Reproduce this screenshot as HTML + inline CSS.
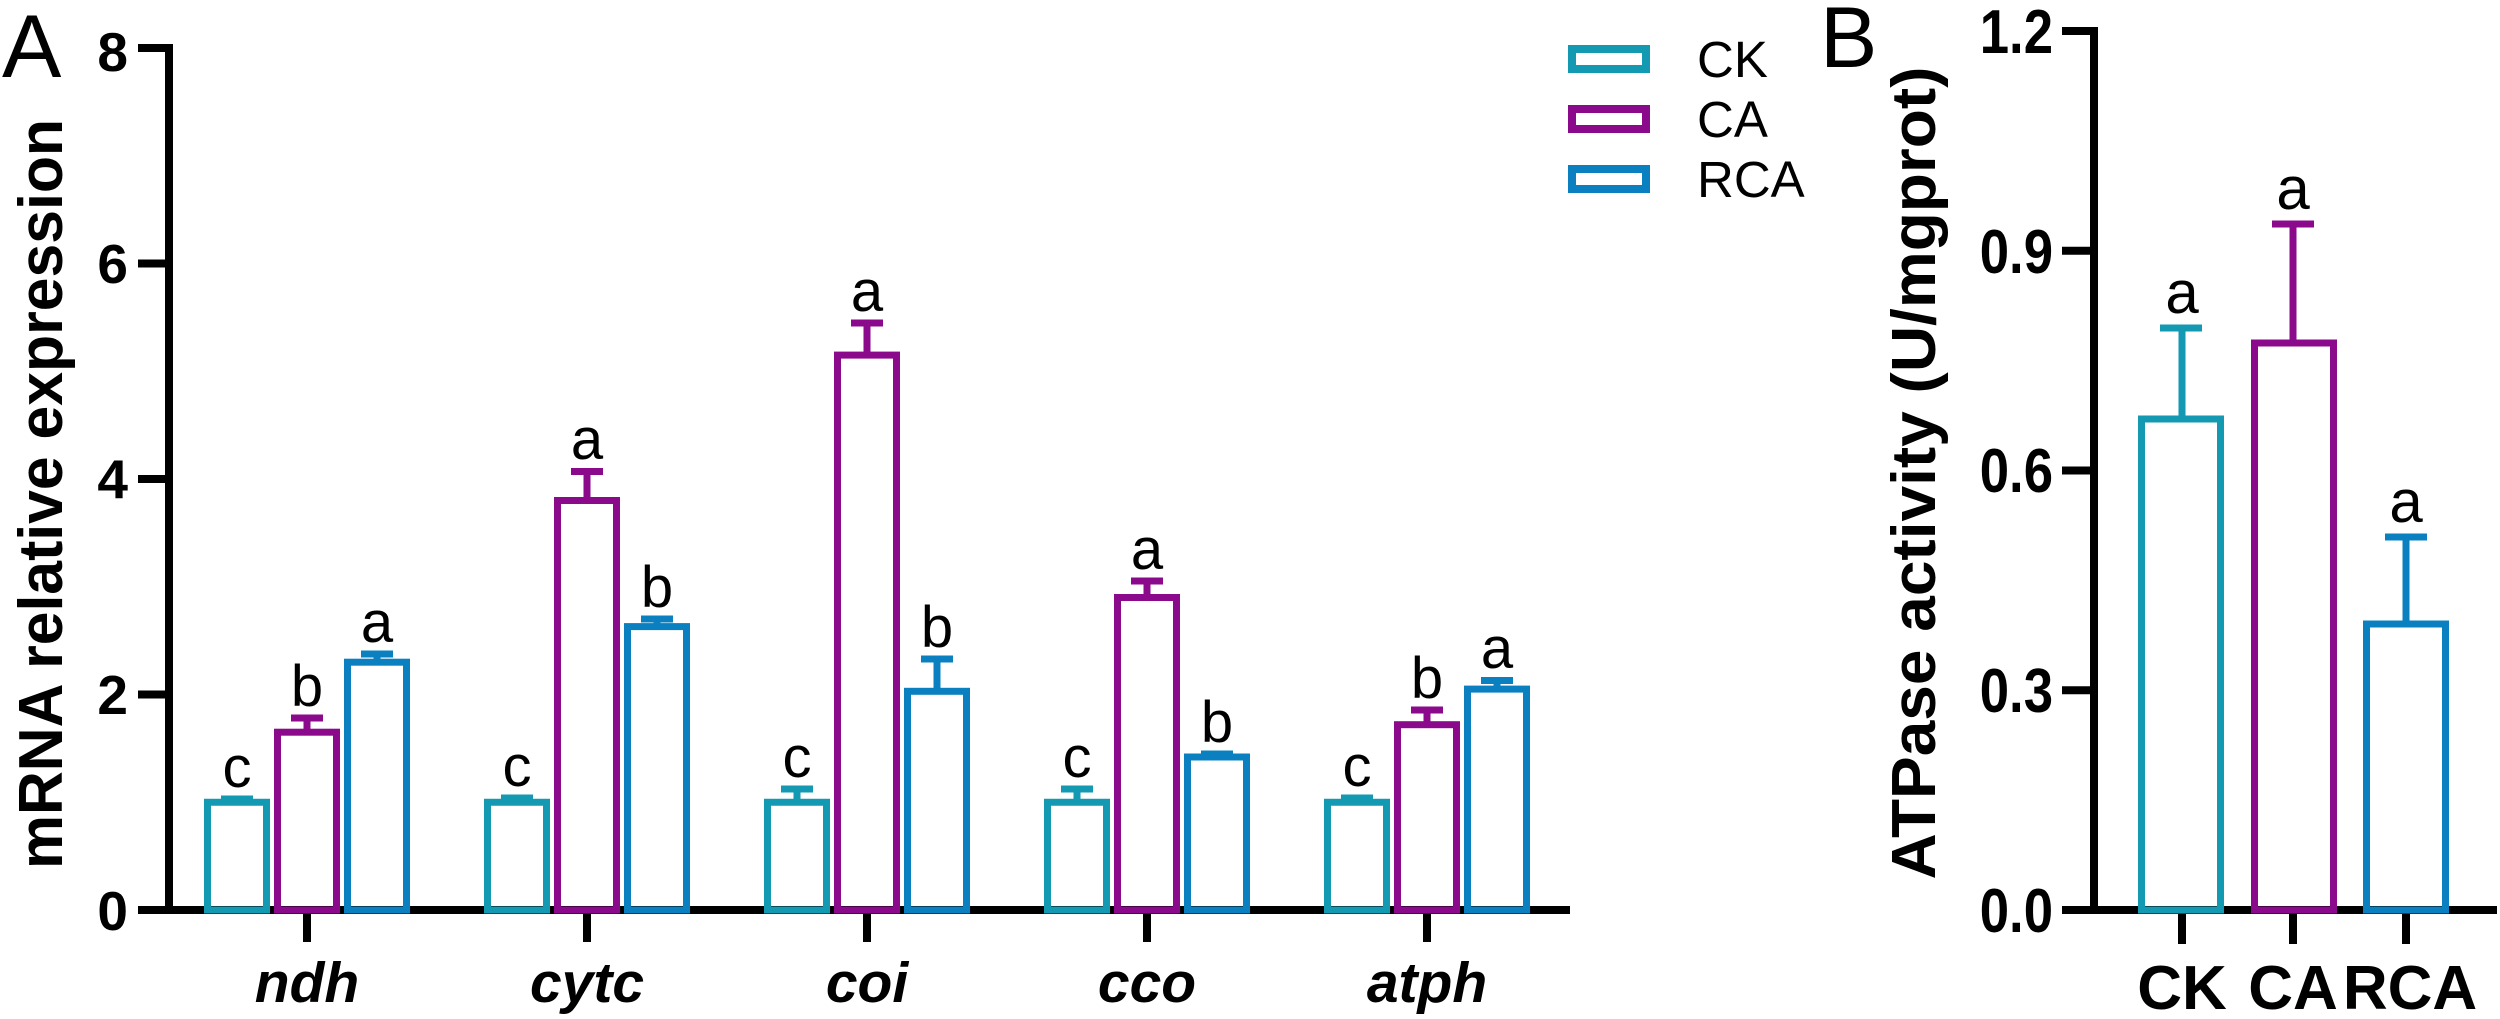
<!DOCTYPE html>
<html><head><meta charset="utf-8"><style>
html,body{margin:0;padding:0;background:#fff;}
svg{display:block;}
text{font-family:"Liberation Sans",Arial,sans-serif;}
</style></head><body>
<svg width="2500" height="1019" viewBox="0 0 2500 1019" xmlns="http://www.w3.org/2000/svg">
<rect width="2500" height="1019" fill="#fff"/>
<!-- Panel A -->
<text x="2" y="77" font-size="89">A</text>
<text transform="translate(62,494) rotate(-90)" text-anchor="middle" font-size="62" font-weight="bold" textLength="750" lengthAdjust="spacingAndGlyphs">mRNA relative expression</text>
<g stroke="#000" stroke-width="8" fill="none">
<line x1="169" y1="44" x2="169" y2="914"/>
<line x1="138" y1="910" x2="1570" y2="910"/>
<line x1="138" y1="48" x2="169" y2="48"/>
<line x1="138" y1="263.5" x2="169" y2="263.5"/>
<line x1="138" y1="479" x2="169" y2="479"/>
<line x1="138" y1="694.5" x2="169" y2="694.5"/>
<line x1="307" y1="910" x2="307" y2="942"/>
<line x1="587" y1="910" x2="587" y2="942"/>
<line x1="867" y1="910" x2="867" y2="942"/>
<line x1="1147" y1="910" x2="1147" y2="942"/>
<line x1="1427" y1="910" x2="1427" y2="942"/>
</g>
<g font-size="55" font-weight="bold" text-anchor="end">
<text x="128" y="71">8</text>
<text x="128" y="283">6</text>
<text x="128" y="498">4</text>
<text x="128" y="714">2</text>
<text x="128" y="930">0</text>
</g>
<g font-size="57" font-weight="bold" font-style="italic" text-anchor="middle">
<text x="307" y="1002">ndh</text>
<text x="587" y="1002">cytc</text>
<text x="867" y="1002">coi</text>
<text x="1147" y="1002">cco</text>
<text x="1427" y="1002">atph</text>
</g>
<g fill="none" stroke-width="7">
<g stroke="#1399b2">
<rect x="207.5" y="802.25" width="59" height="107.75"/><line x1="237" y1="802" x2="237" y2="799"/><line x1="221" y1="799" x2="253" y2="799"/>
<rect x="487.5" y="802.25" width="59" height="107.75"/><line x1="517" y1="802" x2="517" y2="798"/><line x1="501" y1="798" x2="533" y2="798"/>
<rect x="767.5" y="802.25" width="59" height="107.75"/><line x1="797" y1="802" x2="797" y2="789"/><line x1="781" y1="789" x2="813" y2="789"/>
<rect x="1047.5" y="802.25" width="59" height="107.75"/><line x1="1077" y1="802" x2="1077" y2="789"/><line x1="1061" y1="789" x2="1093" y2="789"/>
<rect x="1327.5" y="802.25" width="59" height="107.75"/><line x1="1357" y1="802" x2="1357" y2="798"/><line x1="1341" y1="798" x2="1373" y2="798"/>
</g>
<g stroke="#8b0a8b">
<rect x="277.5" y="732.2" width="59" height="177.8"/><line x1="307" y1="732" x2="307" y2="718"/><line x1="291" y1="718" x2="323" y2="718"/>
<rect x="557.5" y="500.5" width="59" height="409.5"/><line x1="587" y1="500" x2="587" y2="471.5"/><line x1="571" y1="471.5" x2="603" y2="471.5"/>
<rect x="837.5" y="355.1" width="59" height="554.9"/><line x1="867" y1="355" x2="867" y2="323"/><line x1="851" y1="323" x2="883" y2="323"/>
<rect x="1117.5" y="597.5" width="59" height="312.5"/><line x1="1147" y1="597" x2="1147" y2="581"/><line x1="1131" y1="581" x2="1163" y2="581"/>
<rect x="1397.5" y="724.7" width="59" height="185.3"/><line x1="1427" y1="724" x2="1427" y2="710"/><line x1="1411" y1="710" x2="1443" y2="710"/>
</g>
<g stroke="#0a80c0">
<rect x="347.5" y="662.2" width="59" height="247.8"/><line x1="377" y1="662" x2="377" y2="654"/><line x1="361" y1="654" x2="393" y2="654"/>
<rect x="627.5" y="626.6" width="59" height="283.4"/><line x1="657" y1="626" x2="657" y2="619"/><line x1="641" y1="619" x2="673" y2="619"/>
<rect x="907.5" y="691.3" width="59" height="218.7"/><line x1="937" y1="691" x2="937" y2="659"/><line x1="921" y1="659" x2="953" y2="659"/>
<rect x="1187.5" y="757" width="59" height="153"/><line x1="1217" y1="757" x2="1217" y2="754"/><line x1="1201" y1="754" x2="1233" y2="754"/>
<rect x="1467.5" y="689.1" width="59" height="220.9"/><line x1="1497" y1="689" x2="1497" y2="680.5"/><line x1="1481" y1="680.5" x2="1513" y2="680.5"/>
</g>
</g>
<g font-size="58" text-anchor="middle">
<text x="237" y="787">c</text><text x="307" y="706">b</text><text x="377" y="642">a</text>
<text x="517" y="786">c</text><text x="587" y="459">a</text><text x="657" y="607">b</text>
<text x="797" y="777">c</text><text x="867" y="311">a</text><text x="937" y="647">b</text>
<text x="1077" y="777">c</text><text x="1147" y="569">a</text><text x="1217" y="742">b</text>
<text x="1357" y="786">c</text><text x="1427" y="698">b</text><text x="1497" y="668">a</text>
</g>
<!-- Legend -->
<g fill="none" stroke-width="8">
<rect x="1572" y="49" width="74" height="20" stroke="#1399b2"/>
<rect x="1572" y="109" width="74" height="20" stroke="#8b0a8b"/>
<rect x="1572" y="169" width="74" height="20" stroke="#0a80c0"/>
</g>
<g font-size="51">
<text x="1697" y="77">CK</text>
<text x="1697" y="137">CA</text>
<text x="1697" y="197">RCA</text>
</g>
<!-- Panel B -->
<text x="1820" y="67" font-size="86">B</text>
<text transform="translate(1935,473) rotate(-90)" text-anchor="middle" font-size="62" font-weight="bold" textLength="813" lengthAdjust="spacingAndGlyphs">ATPase activity (U/mgprot)</text>
<g stroke="#000" stroke-width="8" fill="none">
<line x1="2094" y1="27" x2="2094" y2="914"/>
<line x1="2062" y1="910" x2="2497" y2="910"/>
<line x1="2062" y1="31" x2="2094" y2="31"/>
<line x1="2062" y1="250.75" x2="2094" y2="250.75"/>
<line x1="2062" y1="470.5" x2="2094" y2="470.5"/>
<line x1="2062" y1="690.25" x2="2094" y2="690.25"/>
<line x1="2182" y1="910" x2="2182" y2="944"/>
<line x1="2293" y1="910" x2="2293" y2="944"/>
<line x1="2406" y1="910" x2="2406" y2="944"/>
</g>
<g font-size="62" font-weight="bold" text-anchor="end">
<text transform="translate(2053,53) scale(0.85,1)">1.2</text>
<text transform="translate(2053,273) scale(0.85,1)">0.9</text>
<text transform="translate(2053,492) scale(0.85,1)">0.6</text>
<text transform="translate(2053,712) scale(0.85,1)">0.3</text>
<text transform="translate(2053,932) scale(0.85,1)">0.0</text>
</g>
<g font-size="62" font-weight="bold" text-anchor="middle">
<text x="2182" y="1009">CK</text>
<text x="2293" y="1009">CA</text>
<text x="2410" y="1009">RCA</text>
</g>
<g fill="none" stroke-width="7">
<g stroke="#1399b2"><rect x="2141.5" y="419" width="79" height="491"/><line x1="2182" y1="419" x2="2182" y2="328"/><line x1="2160" y1="328" x2="2202" y2="328"/></g>
<g stroke="#8b0a8b"><rect x="2254.5" y="343" width="79" height="567"/><line x1="2293" y1="343" x2="2293" y2="224"/><line x1="2272" y1="224" x2="2314" y2="224"/></g>
<g stroke="#0a80c0"><rect x="2366.5" y="624" width="79" height="286"/><line x1="2406" y1="624" x2="2406" y2="537"/><line x1="2385" y1="537" x2="2427" y2="537"/></g>
</g>
<g font-size="60" text-anchor="middle">
<text x="2182" y="313">a</text>
<text x="2293" y="209">a</text>
<text x="2406" y="522">a</text>
</g>
</svg>
</body></html>
